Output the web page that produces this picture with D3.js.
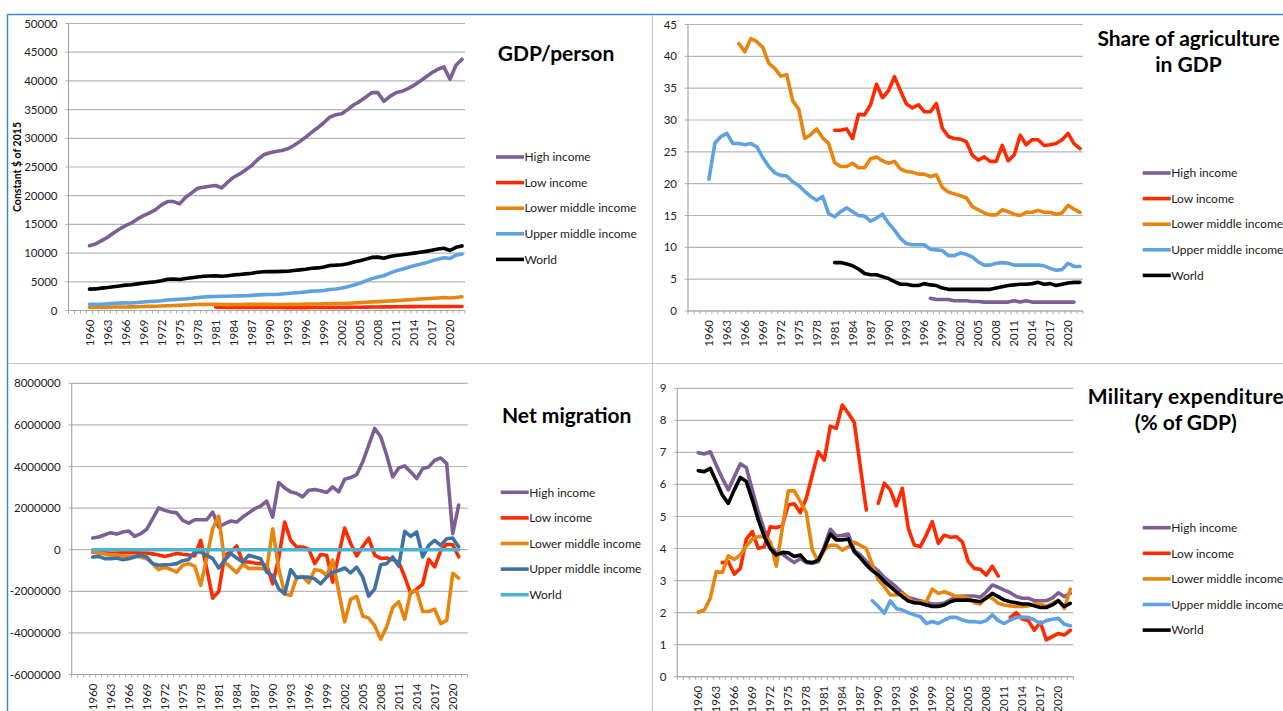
<!DOCTYPE html>
<html>
<head>
<meta charset="utf-8">
<script src="https://cdn.jsdelivr.net/npm/d3@7"></script>
<style>
  body { margin: 0; background: #fff; }
  svg { display: block; font-family: Lato, "Open Sans", sans-serif; }
</style>
</head>
<body>
<script>
// categories: three blank leading columns, then 1960..2022
const years = d3.range(1960, 2023);
const categories = ["", "", ""].concat(years.map(String));
const seriesNames = ["High income", "Low income", "Lower middle income", "Upper middle income", "World"];

// ---- GDP per person (constant $ of 2015)
const gdpHigh = [11290,11580,12170,12750,13500,14200,14780,15250,15950,16530,
  17000,17580,18400,18980,18980,18570,19730,20490,21300,21480,
  21650,21770,21360,22350,23220,23800,24500,25260,26300,27120,
  27470,27700,27880,28170,28750,29450,30210,31080,31840,32710,
  33700,34110,34280,35040,35850,36440,37190,37950,37950,36440,
  37310,37950,38180,38650,39230,39930,40690,41440,42030,42430,
  40280,42720,43770];
const gdpLow = [null,null,null,null,null,null,null,null,null,null,
  null,null,null,null,null,null,null,null,null,null,null,
  560,555,545,535,540,545,545,550,545,
  540,530,515,505,490,495,505,510,515,515,
  515,525,535,540,555,570,585,600,615,625,
  640,650,655,670,680,685,685,690,695,700,
  690,695,700];
const gdpLowerMid = [550,560,570,580,600,610,620,640,660,690,
  720,750,780,820,860,900,950,1000,1040,1070,
  1080,1060,1040,1030,1040,1050,1060,1060,1070,1070,
  1060,1050,1050,1060,1070,1090,1110,1130,1140,1150,
  1180,1200,1230,1270,1320,1380,1440,1500,1550,1600,
  1660,1720,1780,1850,1920,1990,2060,2130,2190,2260,
  2170,2260,2400];
const gdpUpperMid = [1100,1080,1100,1150,1250,1280,1330,1300,1380,1480,
  1560,1620,1700,1820,1900,1950,2020,2120,2250,2350,
  2420,2450,2470,2480,2520,2540,2580,2640,2720,2760,
  2780,2800,2870,2950,3050,3150,3250,3380,3400,3480,
  3650,3750,3920,4150,4450,4750,5150,5550,5850,6050,
  6500,6900,7200,7500,7800,8050,8300,8650,8950,9200,
  9050,9650,9850];
const gdpWorld = [3730,3760,3900,4000,4150,4280,4420,4500,4640,4800,
  4900,5000,5180,5450,5480,5400,5580,5720,5850,5980,
  6000,6030,5980,6050,6200,6280,6380,6480,6650,6750,
  6800,6780,6820,6850,6980,7080,7200,7350,7420,7580,
  7850,7900,7980,8150,8450,8650,8950,9250,9300,9100,
  9400,9580,9700,9850,10000,10150,10300,10500,10700,10850,
  10450,11000,11250];

// ---- Share of agriculture in GDP (%)
const agriHigh = [null,null,null,null,null,null,null,null,null,null,
  null,null,null,null,null,null,null,null,null,null,
  null,null,null,null,null,null,null,null,null,null,
  null,null,null,null,null,null,null,
  2.0,1.8,1.8,
  1.8,1.6,1.6,1.6,1.5,1.5,1.4,1.4,1.4,1.4,
  1.4,1.6,1.4,1.6,1.4,1.4,1.4,1.4,1.4,1.4,
  1.4,1.4,null];
const agriLow = [null,null,null,null,null,null,null,null,null,null,
  null,null,null,null,null,null,null,null,null,null,null,
  28.4,28.4,28.6,27.1,30.9,30.8,32.4,35.6,33.5,
  34.6,36.8,34.6,32.5,31.9,32.4,31.3,31.3,32.6,28.7,
  27.4,27.1,27.0,26.6,24.5,23.7,24.2,23.5,23.5,26.0,
  23.6,24.5,27.6,26.1,26.9,26.9,26.0,26.1,26.3,26.9,
  27.9,26.3,25.5];
const agriLowerMid = [null,null,null,null,null,42.0,40.7,42.8,42.3,41.4,
  38.9,38.1,36.9,37.1,33.0,31.7,27.1,27.7,28.6,27.2,
  26.3,23.3,22.7,22.7,23.2,22.5,22.5,23.9,24.2,23.6,
  23.2,23.5,22.3,21.9,21.8,21.5,21.5,21.1,21.4,19.4,
  18.7,18.4,18.1,17.8,16.4,15.9,15.4,15.1,15.1,15.9,
  15.6,15.2,15.0,15.5,15.5,15.8,15.5,15.5,15.2,15.4,
  16.6,16.0,15.5];
const agriUpperMid = [20.7,26.4,27.4,27.9,26.3,26.3,26.1,26.3,25.8,24.1,
  22.7,21.7,21.3,21.2,20.3,19.7,18.8,18.0,17.4,18.0,
  15.3,14.8,15.6,16.2,15.6,15.0,14.9,14.1,14.6,15.2,
  13.8,12.7,11.4,10.6,10.4,10.4,10.4,9.7,9.6,9.5,
  8.7,8.7,9.1,8.9,8.5,7.7,7.2,7.2,7.5,7.6,
  7.5,7.2,7.2,7.2,7.2,7.2,7.1,6.7,6.4,6.5,
  7.5,7.0,7.0];
const agriWorld = [null,null,null,null,null,null,null,null,null,null,
  null,null,null,null,null,null,null,null,null,null,null,
  7.6,7.6,7.4,7.1,6.6,5.9,5.7,5.7,5.4,
  5.1,4.6,4.2,4.2,4.0,4.0,4.3,4.1,4.0,3.6,
  3.4,3.4,3.4,3.4,3.4,3.4,3.4,3.4,3.6,3.8,
  4.0,4.1,4.2,4.2,4.3,4.5,4.2,4.3,4.0,4.2,
  4.4,4.5,4.5];

// ---- Net migration
const migHigh = [560000,610000,720000,820000,750000,850000,900000,640000,770000,980000,
  1490000,2010000,1890000,1810000,1770000,1410000,1280000,1440000,1440000,1440000,
  1810000,1090000,1250000,1380000,1330000,1570000,1770000,1970000,2100000,2330000,
  1570000,3230000,2970000,2780000,2700000,2540000,2860000,2890000,2830000,2750000,
  3020000,2780000,3390000,3470000,3610000,4220000,5020000,5830000,5430000,4540000,
  3500000,3930000,4030000,3740000,3420000,3900000,3980000,4300000,4410000,4140000,
  770000,2150000,null];
const migLow = [-120000,-150000,-150000,-170000,-160000,-150000,-140000,-130000,-150000,-160000,
  -200000,-250000,-330000,-250000,-180000,-220000,-250000,-300000,450000,-900000,
  -2330000,-2010000,-270000,-110000,180000,-590000,-590000,-640000,-670000,-750000,
  -1640000,-400000,1330000,450000,130000,130000,20000,-670000,-230000,-270000,
  -1560000,-250000,1040000,300000,-300000,150000,550000,-260000,-420000,-400000,
  -480000,-600000,-1300000,-2100000,-1900000,-1650000,-460000,-820000,-40000,260000,
  240000,-340000,null];
const migLowerMid = [-110000,-150000,-200000,-250000,-250000,-300000,-350000,-300000,-350000,-430000,
  -670000,-960000,-840000,-950000,-1080000,-750000,-670000,-790000,-1720000,-400000,
  1010000,1620000,-600000,-850000,-1100000,-700000,-900000,-900000,-900000,-950000,
  1010000,-900000,-2120000,-2200000,-1320000,-1290000,-1590000,-960000,-1000000,-1240000,
  -500000,-2000000,-3470000,-2380000,-2250000,-3190000,-3290000,-3650000,-4310000,-3700000,
  -2780000,-2500000,-3350000,-2020000,-1990000,-2970000,-2970000,-2860000,-3550000,-3400000,
  -1130000,-1370000,null];
const migUpperMid = [-350000,-320000,-430000,-430000,-400000,-480000,-430000,-350000,-270000,-350000,
  -670000,-750000,-720000,-710000,-670000,-530000,-470000,-110000,-110000,-270000,
  -430000,-880000,-510000,-190000,-400000,-590000,-270000,-350000,-430000,-1080000,
  -1240000,-1880000,-2120000,-950000,-1350000,-1320000,-1320000,-1400000,-1640000,-1320000,
  -1080000,-1000000,-880000,-1110000,-840000,-1320000,-2230000,-1880000,-720000,-670000,
  -350000,-790000,880000,640000,850000,-350000,210000,450000,210000,530000,
  560000,130000,null];
const migWorld = [0,0,0,0,0,0,0,0,0,0, 0,0,0,0,0,0,0,0,0,0, 0,0,0,0,0,0,0,0,0,0,
  0,0,0,0,0,0,0,0,0,0, 0,0,0,0,0,0,0,0,0,0, 0,0,0,0,0,0,0,0,0,0, 0,0,null];

// ---- Military expenditure (% of GDP)
const milHigh = [6.99,6.95,7.02,6.6,6.19,5.83,6.24,6.64,6.53,5.83,
  5.15,4.58,4.11,3.85,3.83,3.69,3.56,3.69,3.56,3.54,
  3.59,4.06,4.6,4.39,4.41,4.45,3.95,3.8,3.6,3.45,
  3.3,3.1,2.95,2.8,2.62,2.47,2.42,2.37,2.32,2.27,
  2.27,2.3,2.4,2.5,2.52,2.52,2.52,2.48,2.65,2.86,
  2.79,2.7,2.62,2.5,2.45,2.45,2.37,2.37,2.37,2.45,
  2.62,2.5,2.6];
const milLow = [null,null,null,null,3.56,3.59,3.2,3.38,4.29,4.53,
  4.0,4.06,4.68,4.65,4.72,5.36,5.4,5.12,5.57,6.3,
  7.02,6.76,7.82,7.75,8.48,8.22,7.93,6.56,5.2,null,
  5.41,6.04,5.83,5.33,5.88,4.63,4.11,4.06,4.42,4.84,
  4.16,4.42,4.35,4.37,4.21,3.59,3.38,3.35,3.17,3.45,
  3.14,null,1.85,2.0,1.8,1.75,1.45,1.7,1.15,1.25,
  1.35,1.3,1.45];
const milLowerMid = [2.01,2.08,2.45,3.28,3.25,3.77,3.66,3.8,4.08,4.29,
  4.37,4.37,4.21,3.45,4.63,5.8,5.8,5.46,5.12,3.95,
  3.6,3.95,4.1,4.1,3.95,4.05,4.2,4.1,4.0,3.5,
  3.02,2.81,2.55,2.55,2.6,2.45,2.31,2.34,2.34,2.73,
  2.6,2.65,2.58,2.5,2.5,2.45,2.31,2.27,2.5,2.45,
  2.29,2.24,2.21,2.19,2.19,2.21,2.27,2.27,2.19,2.29,
  2.39,2.13,2.73];
const milUpperMid = [null,null,null,null,null,null,null,null,null,null,
  null,null,null,null,null,null,null,null,null,null,
  null,null,null,null,null,null,null,null,null,2.37,
  2.19,1.98,2.37,2.13,2.08,2.0,1.93,1.87,1.66,1.72,
  1.66,1.77,1.85,1.85,1.77,1.72,1.72,1.69,1.75,1.93,
  1.75,1.66,1.77,1.85,1.85,1.85,1.77,1.66,1.75,1.79,
  1.82,1.64,1.59];
const milWorld = [6.43,6.4,6.5,6.09,5.67,5.41,5.83,6.22,6.09,5.52,
  4.89,4.37,4.0,3.8,3.88,3.87,3.75,3.8,3.59,3.56,
  3.64,4.0,4.45,4.27,4.27,4.3,3.9,3.71,3.49,3.31,
  3.17,2.97,2.81,2.65,2.5,2.36,2.31,2.29,2.24,2.19,
  2.19,2.24,2.34,2.39,2.39,2.39,2.37,2.34,2.45,2.6,
  2.5,2.39,2.34,2.31,2.27,2.27,2.21,2.16,2.16,2.24,
  2.37,2.19,2.29];

const colMain = ["#7d5f96", "#ff2a00", "#e8850e", "#5ea2df", "#000000"];
const colMig = ["#7d5f96", "#ff2a00", "#e8850e", "#3f72a3", "#4bb3cf"];

const W = 1283, H = 711;
const svg = d3.select("body").append("svg").attr("width", W).attr("height", H);

// sheet frame lines
svg.append("line").attr("x1", 7.5).attr("x2", W).attr("y1", 14.5).attr("y2", 14.5)
  .attr("stroke", "#3a8ccc").attr("stroke-width", 1.5);
svg.append("line").attr("x1", 7.5).attr("x2", 7.5).attr("y1", 14).attr("y2", H)
  .attr("stroke", "#3a8ccc").attr("stroke-width", 1.5);
svg.append("line").attr("x1", 8).attr("x2", W).attr("y1", 363.5).attr("y2", 363.5)
  .attr("stroke", "#c8c8c8").attr("stroke-width", 1.2);
svg.append("line").attr("x1", 652.5).attr("x2", 652.5).attr("y1", 15).attr("y2", H)
  .attr("stroke", "#c8c8c8").attr("stroke-width", 1.2);

const panels = [
  { left: 68.5, right: 465, top: 23.5, bottom: 310.5, domain: [0, 50000], nTicks: 10,
    data: [gdpHigh, gdpLow, gdpLowerMid, gdpUpperMid, gdpWorld], colors: colMain,
    title: ["GDP/person"], titleX: 556, titleY: 61,
    legendX: 496, legendY: 157, yLabel: "Constant $ of 2015" },
  { left: 688, right: 1083, top: 24.5, bottom: 311, domain: [0, 45], nTicks: 10,
    data: [agriHigh, agriLow, agriLowerMid, agriUpperMid, agriWorld], colors: colMain,
    title: ["Share of agriculture", "in GDP"], titleX: 1188.5, titleY: 46,
    legendX: 1142.7, legendY: 173 },
  { left: 71.7, right: 467.7, top: 383.3, bottom: 674.5, domain: [-6000000, 8000000], nTicks: 7,
    data: [migHigh, migLow, migLowerMid, migUpperMid, migWorld], colors: colMig,
    title: ["Net migration"], titleX: 566.7, titleY: 423,
    legendX: 500.7, legendY: 492.3 },
  { left: 677.3, right: 1073.3, top: 388.3, bottom: 676.7, domain: [0, 9], nTicks: 9,
    data: [milHigh, milLow, milLowerMid, milUpperMid, milWorld], colors: colMain,
    title: ["Military expenditure", "(% of GDP)"], titleLen: [196, null], titleX: 1185.8, titleY: 404,
    legendX: 1142.7, legendY: 527.7 }
];

panels.forEach(drawPanel);

function drawPanel(p) {
  const g = svg.append("g");
  const x = d3.scaleBand().domain(d3.range(categories.length)).range([p.left, p.right]).padding(0);
  const y = d3.scaleLinear().domain(p.domain).range([p.bottom, p.top]);
  const ticks = y.ticks(p.nTicks);

  // gridlines
  g.selectAll(".grid").data(ticks).enter().append("line")
    .attr("x1", p.left).attr("x2", p.right)
    .attr("y1", d => y(d)).attr("y2", d => y(d))
    .attr("stroke", "#b5b5b5").attr("stroke-width", 1.2);

  // y axis line + ticks
  g.append("line").attr("x1", p.left).attr("x2", p.left).attr("y1", p.top).attr("y2", p.bottom)
    .attr("stroke", "#a8a8a8").attr("stroke-width", 1.2);
  g.selectAll(".ytick").data(ticks).enter().append("line")
    .attr("x1", p.left - 3).attr("x2", p.left)
    .attr("y1", d => y(d)).attr("y2", d => y(d))
    .attr("stroke", "#a8a8a8").attr("stroke-width", 1);
  g.selectAll(".ylab").data(ticks).enter().append("text")
    .attr("x", p.left - 11).attr("y", d => y(d)).attr("dy", "0.35em")
    .attr("text-anchor", "end").attr("font-size", 11.5).attr("fill", "#222")
    .text(d => String(d));

  // x axis at the bottom of the plot
  g.append("line").attr("x1", p.left).attr("x2", p.right).attr("y1", p.bottom).attr("y2", p.bottom)
    .attr("stroke", "#a8a8a8").attr("stroke-width", 1.2);
  g.selectAll(".xtick").data(d3.range(categories.length + 1)).enter().append("line")
    .attr("x1", i => p.left + i * x.step()).attr("x2", i => p.left + i * x.step())
    .attr("y1", p.bottom).attr("y2", p.bottom + 3)
    .attr("stroke", "#a8a8a8").attr("stroke-width", 1);
  const labelled = d3.range(categories.length).filter(i => i % 3 === 0 && categories[i] !== "");
  g.selectAll(".xlab").data(labelled).enter().append("text")
    .attr("transform", i => `translate(${x(i) + x.bandwidth() / 2},${p.bottom + 9}) rotate(-90)`)
    .attr("dy", "0.35em").attr("text-anchor", "end")
    .attr("font-size", 11.5).attr("fill", "#222")
    .text(i => categories[i]);

  // series
  const line = d3.line()
    .defined(d => d.v !== null)
    .x(d => x(d.i) + x.bandwidth() / 2)
    .y(d => y(d.v));
  p.data.forEach((arr, k) => {
    const pts = arr.map((v, j) => ({ i: j + 3, v: v }));
    g.append("path").datum(pts)
      .attr("d", line).attr("fill", "none")
      .attr("stroke", p.colors[k]).attr("stroke-width", 3.6)
      .attr("stroke-linejoin", "round").attr("stroke-linecap", "round");
  });

  // title
  const t = g.append("text").attr("x", p.titleX).attr("y", p.titleY)
    .attr("text-anchor", "middle").attr("font-size", 21).attr("font-weight", "bold").attr("fill", "#000");
  p.title.forEach((s, k) => {
    const ts = t.append("tspan").attr("x", p.titleX).attr("dy", k === 0 ? 0 : 26).text(s);
    if (p.titleLen && p.titleLen[k]) {
      ts.attr("textLength", p.titleLen[k]).attr("lengthAdjust", "spacing");
    }
  });

  // legend
  const lg = g.append("g");
  seriesNames.forEach((name, k) => {
    const yy = p.legendY + k * 25.6;
    lg.append("line").attr("x1", p.legendX).attr("x2", p.legendX + 28)
      .attr("y1", yy).attr("y2", yy)
      .attr("stroke", p.colors[k]).attr("stroke-width", 3.6);
    lg.append("text").attr("x", p.legendX + 28.5).attr("y", yy).attr("dy", "0.35em")
      .attr("font-size", 12).attr("fill", "#222").text(name);
  });

  if (p.yLabel) {
    g.append("text")
      .attr("transform", `translate(17,${(p.top + p.bottom) / 2}) rotate(-90)`)
      .attr("dy", "0.35em").attr("text-anchor", "middle")
      .attr("font-size", 10.5).attr("font-weight", "bold").attr("fill", "#000")
      .text(p.yLabel);
  }
}
</script>
</body>
</html>
